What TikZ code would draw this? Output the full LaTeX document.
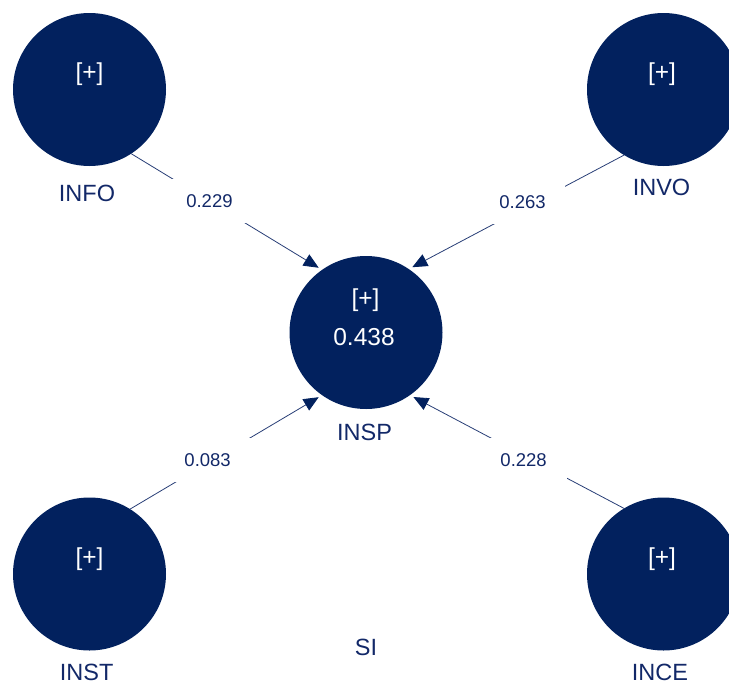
\documentclass[tikz,border=0pt]{standalone}
\usepackage{fontspec}
\setmainfont{Liberation Sans}
\usetikzlibrary{arrows.meta}
\definecolor{navy}{RGB}{2,33,94}
\definecolor{inknavy}{RGB}{18,40,104}
\definecolor{linenavy}{RGB}{40,62,118}
\tikzset{
  construct/.style={circle, fill=navy, minimum size=153pt, inner sep=0pt, outer sep=0pt},
  intext/.style={text=white, inner sep=0pt, font=\fontsize{24.5}{28}\selectfont},
  cname/.style={text=inknavy, inner sep=0pt, font=\fontsize{23.5}{28}\selectfont},
  coef/.style={fill=white, text=inknavy, font=\fontsize{18.5}{22}\selectfont,
               minimum width=86pt, minimum height=44pt, inner sep=0pt},
  path/.style={draw=linenavy, line width=0.8pt,
               -{Triangle[length=15pt,width=13pt,fill=navy,color=navy]}, shorten >=4pt}
}
\begin{document}
\begin{tikzpicture}[x=1pt,y=-1pt]
  \clip (0,0) rectangle (729,686);

  % latent constructs
  \node[construct] (info) at (89.5,89.5) {};
  \node[construct] (invo) at (663.5,89.5) {};
  \node[construct] (insp) at (366,332.5) {};
  \node[construct] (inst) at (89.5,574) {};
  \node[construct] (ince) at (663.5,574) {};

  % text inside the circles
  \node[intext] (infoplus) at (89.5,74.5) {[+]};
  \node[intext] (invoplus) at (662,74.5) {[+]};
  \node[intext] (insplus) at (365.5,300.5) {[+]};
  \node[intext] (insprsq) at (364,337) {0.438};
  \node[intext] (instplus) at (89.5,559) {[+]};
  \node[intext] (inceplus) at (662,559) {[+]};

  % construct names
  \node[cname] (infoname) at (87,193.5) {INFO};
  \node[cname] (invoname) at (661.5,187.5) {INVO};
  \node[cname] (inspname) at (364.5,432) {INSP};
  \node[cname] (instname) at (86.7,672.5) {INST};
  \node[cname] (incename) at (660,672.5) {INCE};
  \node[cname] (siname) at (366,647.5) {SI};

  % structural paths with coefficients
  \draw[path] (info.-57.6) -- node[coef, pos=0.41] (c1) {0.229} (insp.125.7);
  \draw[path] (invo.239.7) -- node[coef, pos=0.472, yshift=6.5pt] (c2) {0.263} (insp.56.9);
  \draw[path] (inst.58.8) -- node[coef, pos=0.404, yshift=2.7pt] (c3) {0.083} (insp.235.7);
  \draw[path] (ince.121.2) -- node[coef, pos=0.469, yshift=-4.6pt] (c4) {0.228} (insp.-55.7);
\end{tikzpicture}
\end{document}
